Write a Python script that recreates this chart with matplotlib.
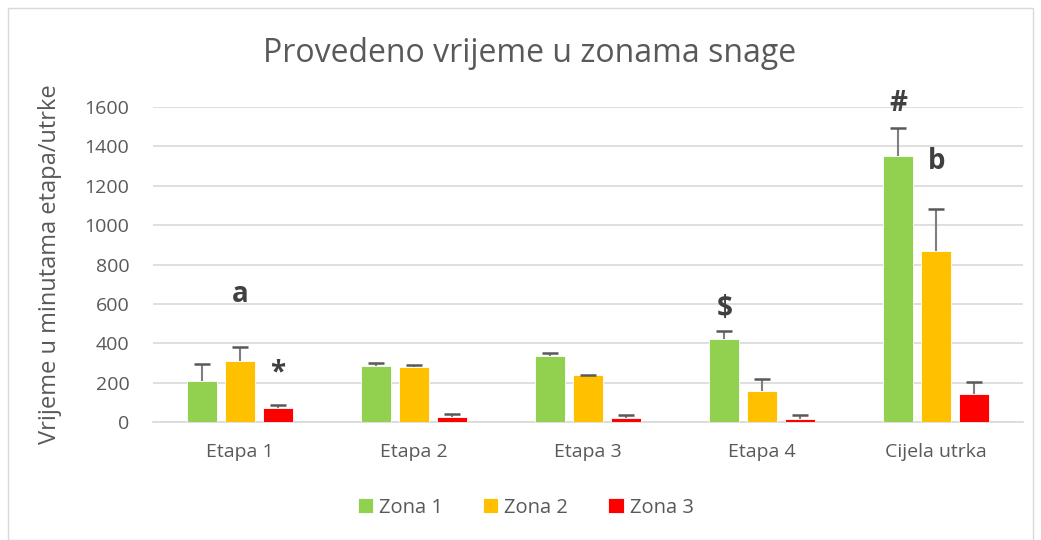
import matplotlib

matplotlib.use("Agg")
import matplotlib.pyplot as plt  # noqa: E402
import numpy as np  # noqa: E402
from matplotlib.patches import Rectangle  # noqa: E402

plt.rcParams["font.family"] = ["Open Sans", "DejaVu Sans"]

# values (minutes)
categories = ["Etapa 1", "Etapa 2", "Etapa 3", "Etapa 4", "Cijela utrka"]
zona1 = [209, 286, 335, 421, 1351]
zona2 = [313, 279, 238, 161, 869]
zona3 = [74, 25, 20, 15, 144]
zona1_err = [85, 15, 16, 44, 142]
zona2_err = [69, 12, 3, 59, 215]
zona3_err = [16, 17, 19, 20, 59]
series_names = ["Zona 1", "Zona 2", "Zona 3"]
colors = ["#92D050", "#FFC000", "#FF0000"]

# significance marks: (category index, series index, text, y value)
marks = [
    (0, 1, "a", 650),
    (0, 2, "*", 250),
    (3, 0, "$", 575),
    (4, 0, "#", 1615),
    (4, 1, "b", 1325),
]

fig = plt.figure(figsize=(10.41, 5.4), dpi=100)
ax = fig.add_axes([0.147, 0.218, 0.836, 0.584])

x = np.arange(len(categories))
width = 0.172
step = 0.218
values = [zona1, zona2, zona3]
errors = [zona1_err, zona2_err, zona3_err]
for i, (vals, errs) in enumerate(zip(values, errors)):
    pos = x + (i - 1) * step
    ax.bar(pos, vals, width, color=colors[i], edgecolor="white", linewidth=0.6,
           label=series_names[i], zorder=3)
    # upper error only, cap on the top end
    ax.vlines(pos, vals, np.add(vals, errs), color="#7f7f7f", linewidth=1.5, zorder=4)
    ax.plot(pos, np.add(vals, errs), linestyle="none", marker="_", markersize=11,
            markeredgewidth=1.8, color="#595959", zorder=4)

for ci, si, txt, yv in marks:
    ax.text(x[ci] + (si - 1) * step, yv, txt, ha="center", va="center",
            fontsize=20, fontweight="bold", color="#404040", clip_on=False)

ax.set_xlim(-0.5, len(categories) - 0.5)
ax.set_ylim(0, 1600)
ax.set_yticks(np.arange(0, 1601, 200))
ax.set_xticks(x)
ax.set_xticklabels(categories)
ax.tick_params(axis="both", length=0, labelsize=14, labelcolor="#595959")
ax.tick_params(axis="y", pad=17)
ax.tick_params(axis="x", pad=15)
ax.grid(axis="y", color="#d9d9d9", linewidth=1.2, zorder=0)
for side in ["top", "right", "left"]:
    ax.spines[side].set_visible(False)
ax.spines["bottom"].set_color("#d9d9d9")
ax.spines["bottom"].set_linewidth(1.2)

ax.set_ylabel("Vrijeme u minutama etapa/utrke", fontsize=17, color="#595959", labelpad=16)
fig.text(0.509, 0.9, "Provedeno vrijeme u zonama snage", ha="center", va="center",
         fontsize=23, color="#595959")

fig.legend(loc="center", bbox_to_anchor=(0.505, 0.06), ncol=3, frameon=False,
           fontsize=14.5, handlelength=0.75, handleheight=0.75, handletextpad=0.3,
           columnspacing=2.0, labelcolor="#595959")

fig.patches.append(Rectangle((0.008, 0.0), 0.984, 0.985, transform=fig.transFigure,
                             fill=False, edgecolor="#d9d9d9", linewidth=1))

fig.savefig("out.png", dpi=100)
